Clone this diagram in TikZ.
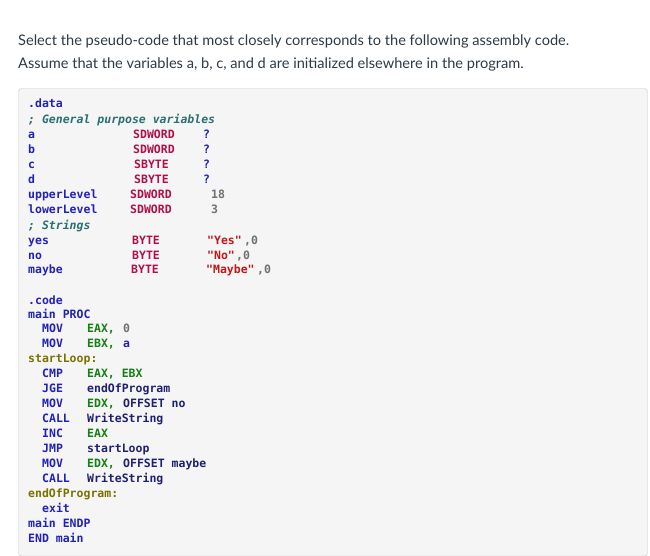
\documentclass[tikz,border=0pt]{standalone}
\usepackage{fontspec}
\setmainfont{Lato}
\newfontfamily\codefont{DejaVu Sans Mono}
\definecolor{kw}{HTML}{2222B8}
\definecolor{dir}{HTML}{B0104A}
\definecolor{reg}{HTML}{128012}
\definecolor{lbl}{HTML}{7A7200}
\definecolor{num}{HTML}{707070}
\definecolor{str}{HTML}{C01818}
\definecolor{cmt}{HTML}{2A7070}
\definecolor{opd}{HTML}{202070}
\definecolor{boxbg}{HTML}{F5F5F5}
\definecolor{boxln}{HTML}{C8C8C8}
\definecolor{txt}{HTML}{2D3B45}
\newcounter{cn}
\newcommand{\ct}[4]{\stepcounter{cn}\node[code,#3] (c\thecn) at (#1pt,-#2pt) {#4};}
\tikzset{code/.style={anchor=base west,inner sep=0pt,font=\codefont\bfseries\fontsize{11.5}{13}\selectfont},
 title/.style={anchor=base west,inner sep=0pt,text=txt,font=\fontsize{14.6}{17}\selectfont}}
\begin{document}
\begin{tikzpicture}[x=1pt,y=1pt]
\useasboundingbox (0,0) rectangle (650,-555);
\fill[white] (0,0) rectangle (650,-555);
\node[title] (t1) at (18,-45) {Select the pseudo-code that most closely corresponds to the following assembly code.};
\node[title] (t2) at (18,-68) {Assume that the variables a, b, c, and d are initialized elsewhere in the program.};
\draw[boxln,fill=boxbg,rounded corners=3pt] (18.5,-88.5) rectangle (647.5,-556);
% data
\ct{28}{107}{text=kw}{.data}
\ct{28}{123}{text=cmt,font=\codefont\bfseries\itshape\fontsize{11.5}{13}\selectfont}{; General purpose variables}
\ct{28}{138}{text=kw}{a}\ct{133}{138}{text=dir}{SDWORD}\ct{203}{138}{text=kw}{?}
\ct{28}{153}{text=kw}{b}\ct{133}{153}{text=dir}{SDWORD}\ct{203}{153}{text=kw}{?}
\ct{28}{168}{text=kw}{c}\ct{134}{168}{text=dir}{SBYTE}\ct{203}{168}{text=kw}{?}
\ct{28}{183}{text=kw}{d}\ct{134}{183}{text=dir}{SBYTE}\ct{203}{183}{text=kw}{?}
\ct{28}{198}{text=kw}{upperLevel}\ct{130}{198}{text=dir}{SDWORD}\ct{211}{198}{text=num}{18}
\ct{28}{213}{text=kw}{lowerLevel}\ct{130}{213}{text=dir}{SDWORD}\ct{211}{213}{text=num}{3}
\ct{28}{229}{text=cmt,font=\codefont\bfseries\itshape\fontsize{11.5}{13}\selectfont}{; Strings}
\ct{28}{244}{text=kw}{yes}\ct{132}{244}{text=dir}{BYTE}\ct{207}{244}{text=str}{"Yes"}\ct{244}{244}{text=num}{,0}
\ct{28}{259}{text=kw}{no}\ct{132}{259}{text=dir}{BYTE}\ct{207}{259}{text=str}{"No"}\ct{236}{259}{text=num}{,0}
\ct{28}{273}{text=kw}{maybe}\ct{131}{273}{text=dir}{BYTE}\ct{206}{273}{text=str}{"Maybe"}\ct{257}{273}{text=num}{,0}
% code
\ct{28}{304}{text=kw}{.code}
\ct{28}{318}{text=kw}{main PROC}
\ct{42}{332}{text=kw}{MOV}\ct{87}{332}{text=reg}{EAX,}\ct{123}{332}{text=num}{0}
\ct{42}{347}{text=kw}{MOV}\ct{87}{347}{text=reg}{EBX,}\ct{123}{347}{text=kw}{a}
\ct{28}{362}{text=lbl}{startLoop:}
\ct{42}{377}{text=kw}{CMP}\ct{87}{377}{text=reg}{EAX, EBX}
\ct{42}{392}{text=kw}{JGE}\ct{87}{392}{text=opd}{endOfProgram}
\ct{42}{407}{text=kw}{MOV}\ct{87}{407}{text=reg}{EDX,}\ct{123}{407}{text=opd}{OFFSET no}
\ct{42}{422}{text=kw}{CALL}\ct{87}{422}{text=opd}{WriteString}
\ct{42}{437}{text=kw}{INC}\ct{87}{437}{text=reg}{EAX}
\ct{42}{452}{text=kw}{JMP}\ct{87}{452}{text=opd}{startLoop}
\ct{42}{467}{text=kw}{MOV}\ct{87}{467}{text=reg}{EDX,}\ct{123}{467}{text=opd}{OFFSET maybe}
\ct{42}{482}{text=kw}{CALL}\ct{87}{482}{text=opd}{WriteString}
\ct{28}{497}{text=lbl}{endOfProgram:}
\ct{42}{512}{text=kw}{exit}
\ct{28}{527}{text=kw}{main ENDP}
\ct{28}{542}{text=kw}{END main}
\end{tikzpicture}
\end{document}
